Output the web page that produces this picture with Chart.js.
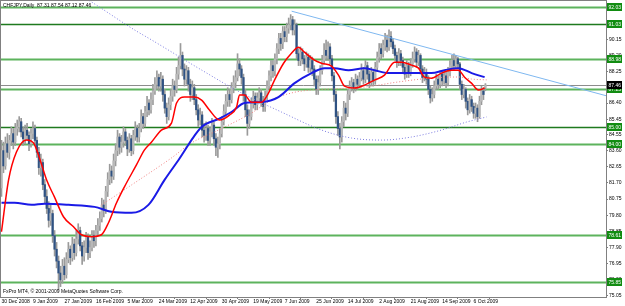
<!DOCTYPE html>
<html><head><meta charset="utf-8">
<script src="https://cdn.jsdelivr.net/npm/chart.js@4"></script>
<style>html,body{margin:0;padding:0;background:#fff;overflow:hidden}canvas{display:block}</style>
</head><body>
<canvas id="c" width="625" height="306"></canvas>
<script>
const symbolTitle = "CHFJPY,Daily  87.31 87.54 87.12 87.46";
const copyright = "FxPro MT4, \u00A9 2001-2009 MetaQuotes Software Corp.";
const dateLabels = ["30 Dec 2008","9 Jan 2009","27 Jan 2009","16 Feb 2009","5 Mar 2009","24 Mar 2009","12 Apr 2009","30 Apr 2009","19 May 2009","7 Jun 2009","25 Jun 2009","14 Jul 2009","2 Aug 2009","21 Aug 2009","14 Sep 2009","6 Oct 2009"];
const dateTickIndex = [0,16,32,48,64,80,96,112,128,144,160,176,192,208,224,240];
const priceTicks = [90.15,89.20,88.25,87.30,86.40,85.45,84.55,83.60,82.65,81.70,80.75,79.80,78.85,77.90,76.95,76.00,75.05];

const opens = [81.4,83.6,82.7,84.0,83.5,84.2,84.6,84.1,84.9,85.0,
85.3,84.7,84.3,84.8,84.5,84.0,84.6,84.9,84.2,83.5,
82.6,82.9,81.6,80.9,80.2,79.5,79.9,78.6,77.8,77.1,
76.4,76.0,76.8,76.3,77.2,77.8,77.3,78.1,77.6,78.4,
78.9,78.0,77.4,77.9,78.5,77.6,77.9,78.6,78.3,78.9,
79.2,79.6,80.4,80.1,81.2,81.9,82.4,82.1,83.0,83.6,
84.4,83.8,84.1,84.7,84.2,83.7,84.3,83.6,84.5,84.9,
84.4,84.9,85.6,85.2,85.9,86.4,86.0,86.6,87.1,87.5,
87.9,87.4,87.8,86.9,86.1,85.6,86.3,86.8,87.4,87.2,
88.1,88.6,89.2,88.4,87.8,88.3,87.5,86.9,87.3,86.6,
86.0,85.4,85.7,84.8,84.5,84.9,84.2,84.7,85.1,84.3,
83.8,84.0,84.6,85.3,85.9,86.5,86.9,86.6,87.3,87.6,
87.9,88.7,88.4,87.9,86.9,86.0,85.2,85.6,86.4,86.8,
86.3,86.7,87.0,86.5,86.2,86.8,87.4,88.0,88.6,88.3,
89.0,89.6,90.2,89.9,90.6,90.3,90.8,91.0,91.3,90.7,
91.0,89.3,88.9,89.4,89.0,88.7,89.1,88.5,88.9,88.4,
87.8,87.2,87.6,88.3,88.9,89.5,89.2,89.7,89.0,88.0,
86.9,85.6,84.9,84.4,85.3,86.1,85.8,86.9,87.4,87.6,
87.3,87.8,87.5,87.9,88.3,87.8,88.6,88.1,87.6,88.2,
87.7,88.5,89.1,89.6,89.3,89.8,90.1,89.7,90.3,90.0,
89.6,89.2,88.8,89.3,88.9,88.5,88.1,88.6,88.2,88.7,
89.0,89.4,88.8,89.2,88.4,87.9,88.2,87.8,87.2,86.7,
86.9,87.4,87.8,87.5,88.1,87.7,88.0,87.6,88.2,88.6,
88.9,88.6,89.0,88.7,87.5,86.9,87.2,86.5,86.0,86.6,
86.2,85.8,86.1,85.6,86.5,87.1,87.31];
const highs = [84.2,84.1,84.4,84.6,84.5,85.0,84.9,85.2,85.4,85.6,
85.5,85.0,85.1,85.2,84.7,84.9,85.3,85.1,84.4,83.8,
83.4,83.1,81.9,81.3,80.6,80.4,80.1,78.9,78.2,77.4,
76.8,77.2,77.3,77.6,78.2,78.0,78.5,78.4,78.9,79.3,
79.1,78.2,78.3,78.8,78.7,78.3,78.9,78.9,79.2,79.6,
80.0,80.8,80.7,81.5,82.3,82.8,82.7,83.4,84.0,84.8,
84.6,84.5,85.0,84.9,84.4,84.6,84.5,84.8,85.3,85.1,
85.2,86.0,85.8,86.2,86.8,86.6,87.0,87.5,87.9,88.3,
88.1,88.2,88.0,87.2,86.4,86.7,87.2,87.8,87.7,88.5,
89.1,89.9,89.4,88.7,88.6,88.5,87.8,87.7,87.5,86.9,
86.3,86.1,85.9,85.2,85.3,85.1,85.0,85.5,85.3,84.6,
84.4,84.9,85.6,86.3,86.9,87.3,87.2,87.6,88.0,88.3,
89.3,89.0,88.6,88.1,87.2,86.3,86.0,86.7,87.1,87.0,
87.0,87.3,87.2,86.8,87.1,87.7,88.3,88.9,88.9,89.3,
89.9,90.5,90.5,90.9,90.9,91.1,91.4,91.6,91.5,91.3,
91.1,89.6,89.7,89.6,89.2,89.4,89.3,89.2,89.1,88.6,
88.0,88.0,88.6,89.2,89.9,90.1,90.0,89.9,89.2,88.2,
87.1,85.9,85.2,85.6,86.5,86.4,87.2,87.7,87.9,87.8,
88.1,88.0,88.2,88.7,88.5,88.9,88.8,88.3,88.5,88.4,
88.8,89.4,89.9,89.9,90.1,90.5,90.4,90.7,90.6,90.2,
89.8,89.4,89.6,89.5,89.1,88.7,88.9,88.8,89.0,89.4,
89.7,89.6,89.5,89.3,88.6,88.5,88.4,88.0,87.4,87.3,
87.7,88.1,88.0,88.3,88.3,88.3,88.2,88.5,88.9,89.2,
89.3,89.2,89.1,88.8,87.7,87.5,87.3,86.7,86.9,86.8,
86.4,86.4,86.3,86.8,87.4,87.3,87.54];
const lows = [80.9,82.3,82.5,83.2,83.1,83.9,83.7,83.9,84.5,84.7,
84.4,83.9,84.0,84.2,83.6,83.8,84.3,83.9,83.2,82.2,
82.1,81.3,80.5,79.9,79.1,79.2,78.2,77.4,76.7,75.4,
75.6,75.8,76.0,76.1,77.0,76.9,77.1,77.2,77.4,78.1,
77.7,76.9,77.1,77.6,77.2,77.3,77.7,77.9,78.0,78.6,
78.9,79.4,79.7,79.9,80.9,81.6,81.7,81.9,82.7,83.3,
83.4,83.5,83.8,83.9,83.3,83.5,83.3,83.4,84.2,84.1,
84.1,84.7,84.9,85.0,85.6,85.7,85.8,86.3,86.9,87.2,
87.1,87.1,86.5,85.8,85.2,85.4,86.0,86.5,86.8,87.0,
87.8,88.4,88.0,87.4,87.5,87.1,86.5,86.6,86.3,85.7,
85.0,85.1,84.4,84.1,84.2,83.9,83.9,84.4,83.9,83.3,
83.2,83.7,84.4,85.1,85.6,86.2,86.2,86.4,87.0,87.3,
87.7,88.0,87.5,86.5,85.6,84.5,84.9,85.4,86.1,86.0,
86.0,86.4,86.2,85.9,85.9,86.6,87.2,87.7,87.9,88.0,
88.7,89.3,89.5,89.6,90.0,90.0,90.5,90.7,90.4,90.4,
89.0,88.6,88.6,88.7,88.3,88.5,88.2,88.2,88.0,87.4,
86.9,86.9,87.4,88.1,88.7,88.9,88.9,88.7,87.7,86.5,
85.2,84.5,83.7,84.1,85.0,85.4,85.6,86.6,87.1,87.0,
87.1,87.2,87.3,87.7,87.5,87.6,87.8,87.3,87.4,87.4,
87.5,88.3,88.8,89.0,89.1,89.5,89.4,89.5,89.7,89.3,
88.9,88.5,88.6,88.6,88.2,87.8,87.9,87.9,88.0,88.5,
88.8,88.5,88.6,88.1,87.6,87.7,87.5,86.9,86.4,86.5,
86.7,87.2,87.2,87.3,87.4,87.5,87.3,87.4,88.0,88.4,
88.3,88.4,88.4,87.2,86.6,86.7,86.1,85.7,85.8,85.9,
85.5,85.5,85.3,85.5,86.3,86.6,87.12];
const closes = [83.6,82.7,84.0,83.5,84.2,84.6,84.1,84.9,85.0,85.3,
84.7,84.3,84.8,84.5,84.0,84.6,84.9,84.2,83.5,82.6,
82.9,81.6,80.9,80.2,79.5,79.9,78.6,77.8,77.1,76.4,
76.0,76.8,76.3,77.2,77.8,77.3,78.1,77.6,78.4,78.9,
78.0,77.4,77.9,78.5,77.6,77.9,78.6,78.3,78.9,79.2,
79.6,80.4,80.1,81.2,81.9,82.4,82.1,83.0,83.6,84.4,
83.8,84.1,84.7,84.2,83.7,84.3,83.6,84.5,84.9,84.4,
84.9,85.6,85.2,85.9,86.4,86.0,86.6,87.1,87.5,87.9,
87.4,87.8,86.9,86.1,85.6,86.3,86.8,87.4,87.2,88.1,
88.6,89.2,88.4,87.8,88.3,87.5,86.9,87.3,86.6,86.0,
85.4,85.7,84.8,84.5,84.9,84.2,84.7,85.1,84.3,83.8,
84.0,84.6,85.3,85.9,86.5,86.9,86.6,87.3,87.6,87.9,
88.7,88.4,87.9,86.9,86.0,85.2,85.6,86.4,86.8,86.3,
86.7,87.0,86.5,86.2,86.8,87.4,88.0,88.6,88.3,89.0,
89.6,90.2,89.9,90.6,90.3,90.8,91.0,91.3,90.7,91.0,
89.3,88.9,89.4,89.0,88.7,89.1,88.5,88.9,88.4,87.8,
87.2,87.6,88.3,88.9,89.5,89.2,89.7,89.0,88.0,86.9,
85.6,84.9,84.4,85.3,86.1,85.8,86.9,87.4,87.6,87.3,
87.8,87.5,87.9,88.3,87.8,88.6,88.1,87.6,88.2,87.7,
88.5,89.1,89.6,89.3,89.8,90.1,89.7,90.3,90.0,89.6,
89.2,88.8,89.3,88.9,88.5,88.1,88.6,88.2,88.7,89.0,
89.4,88.8,89.2,88.4,87.9,88.2,87.8,87.2,86.7,86.9,
87.4,87.8,87.5,88.1,87.7,88.0,87.6,88.2,88.6,88.9,
88.6,89.0,88.7,87.5,86.9,87.2,86.5,86.0,86.6,86.2,
85.8,86.1,85.6,86.5,87.1,86.9,87.46];

const redIdx = [0,3.6,7.6,12.7,16.3,19.3,22.9,26.9,31.5,36.6,40.7,45.8,50.8,54.4,58.5,62.5,68.6,72.7,76.3,81.3,86.4,89.0,93.0,98.1,101.7,105.7,110.8,115.9,119.5,121.0,123.5,127.1,132.2,135.7,138.8,143.4,147.4,151.0,154.0,159.1,162.7,167.8,171.3,174.4,179.5,184.5,189.6,194.7,199.8,203.4,208.4,212.0,215.0,218.6,223.7,228.8,232.3,235.4,238.9,242.5,245.6];
const redVal = [78.83,81.88,83.52,84.23,84.05,83.17,81.88,80.88,79.71,79.12,78.65,78.54,78.65,79.36,80.53,81.47,82.76,83.64,84.11,84.81,85.22,86.40,86.75,86.75,86.57,85.99,85.40,85.69,86.16,86.87,86.87,86.45,86.45,86.98,87.75,88.74,89.33,89.68,89.39,88.92,88.74,88.57,88.04,87.39,87.28,87.45,87.75,88.04,88.80,88.80,88.63,88.45,87.92,87.86,88.16,88.33,88.33,87.92,87.57,87.16,87.28];
const blueIdx = [0,6.6,15.3,21.9,34.1,47.3,55.9,66.1,74.7,82.9,90.0,101.7,110.3,116.9,123.5,132.2,140.8,149.0,157.6,164.2,169.3,176.4,184.5,189.6,196.7,203.4,210.0,218.6,225.2,232.3,239.0,245.6];
const blueVal = [80.53,80.53,80.41,80.47,80.41,80.29,80.00,79.94,80.41,81.88,83.05,84.99,85.46,85.87,86.40,86.46,86.75,87.57,88.16,88.45,88.45,88.33,88.45,88.33,88.16,88.16,88.16,88.16,88.33,88.45,88.16,87.92];
const pinkIdx = [50.8,66.1,86.4,96.6,110.3,127.1,137.3,147.4,157.6,169.3,184.5,201.8,218.6,232.3,238.9,246.6];
const pinkVal = [80.40,81.58,83.17,84.05,84.81,85.81,86.58,86.99,87.17,87.23,87.34,87.64,87.87,87.93,87.81,87.76];
const purpleIdx = [40.7,45.8,67.6,76.3,101.7,122.0,142.3,162.7,177.9,193.2,208.4,223.7,236.4,246.6];
const purpleVal = [92.70,92.34,90.70,90.11,88.34,86.99,85.87,84.81,84.34,84.22,84.40,84.81,85.28,85.58];
const trendIdx = [147.5,307.3];
const trendVal = [91.80,86.83];
const levels = [92.03,91.03,88.98,87.25,85.00,84.00,78.61,75.85];
const bidPrice = 87.46;

const FONT = "'Liberation Sans Narrow','Liberation Sans',Arial,sans-serif";
const pts = (xs, ys) => xs.map((x, i) => ({x: x, y: ys[i]}));
const isBull = i => closes[i] >= opens[i];

const mt4Plugin = {
  id: 'mt4',
  beforeDatasetsDraw(chart) {
    const {ctx, chartArea: a, scales: {y}} = chart;
    ctx.save();
    levels.forEach((v, i) => {
      const py = Math.round(y.getPixelForValue(v)) + 0.5;
      const dark = (i === 1 || i === 4);
      ctx.strokeStyle = dark ? '#1f7a1f' : '#5db35d';
      ctx.lineWidth = dark ? 1.5 : 2;
      ctx.beginPath(); ctx.moveTo(a.left, py); ctx.lineTo(a.right, py); ctx.stroke();
    });
    const by = Math.round(y.getPixelForValue(bidPrice)) + 0.5;
    ctx.strokeStyle = '#8c8c8c'; ctx.lineWidth = 1;
    ctx.beginPath(); ctx.moveTo(a.left, by); ctx.lineTo(a.right, by); ctx.stroke();
    ctx.restore();
  },
  afterDraw(chart) {
    const {ctx, chartArea: a, scales: {y}} = chart;
    ctx.save();
    ctx.strokeStyle = '#808080'; ctx.lineWidth = 1;
    ctx.strokeRect(a.left - 0.5, a.top - 0.5, a.right - a.left + 1, a.bottom - a.top + 1);
    ctx.font = '5px ' + FONT;
    ctx.textBaseline = 'middle';
    const box = (v, fill) => {
      const py = Math.round(y.getPixelForValue(v));
      ctx.fillStyle = fill;
      ctx.fillRect(a.right + 1, py - 4, 15, 8);
      ctx.fillStyle = '#ffffff';
      ctx.fillText(v.toFixed(2), a.right + 2.5, py + 0.5);
    };
    levels.forEach(v => box(v, '#118c11'));
    box(bidPrice, '#000000');
    ctx.fillStyle = '#000000';
    ctx.textBaseline = 'alphabetic';
    ctx.fillText(symbolTitle, a.left + 2, a.top + 6);
    ctx.fillText(copyright, a.left + 2, a.bottom - 4);
    ctx.restore();
  }
};

new Chart(document.getElementById('c'), {
  data: {
    datasets: [
      {type: 'line', data: pts(trendIdx, trendVal), borderColor: '#7fb8f0', borderWidth: 1, pointRadius: 0, order: 1},
      {type: 'line', data: pts(redIdx, redVal), borderColor: '#ff0000', borderWidth: 1.5, pointRadius: 0, cubicInterpolationMode: 'monotone', order: 2},
      {type: 'line', data: pts(blueIdx, blueVal), borderColor: '#1a1ae6', borderWidth: 2, pointRadius: 0, cubicInterpolationMode: 'monotone', order: 3},
      {type: 'line', data: pts(pinkIdx, pinkVal), borderColor: '#f08080', borderWidth: 1, borderDash: [1, 2], pointRadius: 0, cubicInterpolationMode: 'monotone', order: 4},
      {type: 'line', data: pts(purpleIdx, purpleVal), borderColor: '#7a7ae0', borderWidth: 1, borderDash: [1, 2], pointRadius: 0, cubicInterpolationMode: 'monotone', order: 5},
      {type: 'bar', data: closes.map((c, i) => ({x: i, y: [lows[i], highs[i]]})), backgroundColor: '#9a9a9a', barThickness: 1, grouped: false, order: 11},
      {type: 'bar', data: closes.map((c, i) => ({x: i, y: [opens[i], closes[i]]})),
        backgroundColor: ctx => isBull(ctx.dataIndex) ? '#b8b8b8' : '#2f5283', barThickness: 1.6, minBarLength: 1, grouped: false, order: 10}
    ]
  },
  options: {
    responsive: false, devicePixelRatio: 1, animation: false,
    layout: {padding: {top: 1, left: 1, right: 0, bottom: 0}},
    plugins: {legend: {display: false}, tooltip: {enabled: false}},
    scales: {
      x: {
        type: 'linear', min: -0.25, max: 307.3, offset: false,
        afterBuildTicks: s => { s.ticks = dateTickIndex.map(v => ({value: v})); },
        afterFit: s => { s.height = 9; s.paddingLeft = 0; s.paddingRight = 0; },
        grid: {display: true, drawOnChartArea: false, drawTicks: true, tickLength: 2, color: '#808080'},
        border: {display: true, color: '#808080'},
        ticks: {autoSkip: false, maxRotation: 0, minRotation: 0, align: 'start', padding: 0, color: '#000',
          font: {family: FONT, size: 5}, callback: (v, i) => dateLabels[i]}
      },
      y: {
        type: 'linear', position: 'right', min: 74.99, max: 92.40,
        afterBuildTicks: s => { s.ticks = priceTicks.map(v => ({value: v})); },
        afterFit: s => { s.width = 19; s.paddingTop = 0; s.paddingBottom = 0; },
        grid: {display: true, drawOnChartArea: false, drawTicks: true, tickLength: 2, color: '#808080'},
        border: {display: true, color: '#808080'},
        ticks: {autoSkip: false, padding: 1, color: '#000', font: {family: FONT, size: 5},
          callback: v => v.toFixed(2)}
      }
    }
  },
  plugins: [mt4Plugin]
});
</script>
</body></html>
